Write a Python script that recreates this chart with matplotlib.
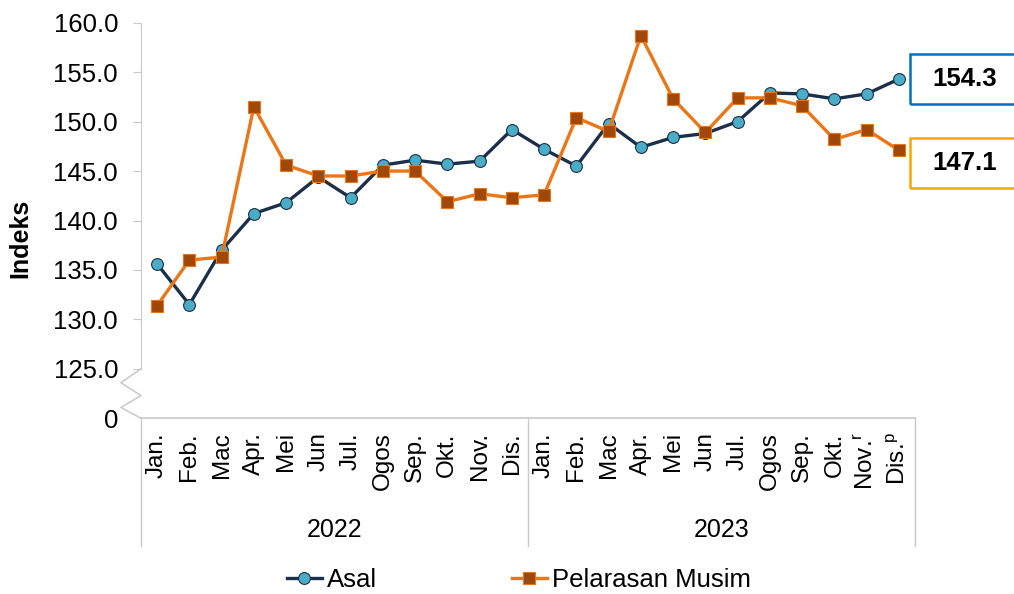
import matplotlib
matplotlib.use("Agg")
import matplotlib.pyplot as plt
import matplotlib.transforms as mtransforms
from matplotlib.patches import Rectangle
from matplotlib.lines import Line2D

plt.rcParams['font.family'] = ['Liberation Sans', 'DejaVu Sans']

months = ['Jan.', 'Feb.', 'Mac', 'Apr.', 'Mei', 'Jun', 'Jul.', 'Ogos', 'Sep.', 'Okt.', 'Nov.', 'Dis.',
          'Jan.', 'Feb.', 'Mac', 'Apr.', 'Mei', 'Jun', 'Jul.', 'Ogos', 'Sep.', 'Okt.',
          'Nov.$^{\\mathregular{r}}$', 'Dis.$^{\\mathregular{p}}$']
years = ['2022', '2023']
asal = [135.6, 131.5, 137.0, 140.7, 141.8, 144.4, 142.3, 145.6, 146.1, 145.7, 146.0, 149.2,
        147.2, 145.5, 149.8, 147.4, 148.4, 148.8, 150.0, 152.9, 152.8, 152.3, 152.8, 154.3]
pelarasan = [131.4, 136.0, 136.3, 151.5, 145.6, 144.5, 144.5, 145.0, 145.0, 141.9, 142.7, 142.3,
             142.6, 150.4, 149.0, 158.7, 152.3, 148.9, 152.4, 152.4, 151.6, 148.2, 149.2, 147.1]
ytick_vals = [120, 125, 130, 135, 140, 145, 150, 155, 160]
ytick_labels = ['0', '125.0', '130.0', '135.0', '140.0', '145.0', '150.0', '155.0', '160.0']

W, H = 1014, 594
fig = plt.figure(figsize=(W / 100, H / 100), dpi=100)
ax_left, ax_right, ax_top, ax_bot = 141, 915, 22.7, 418.3
ax = fig.add_axes([ax_left / W, 1 - ax_bot / H, (ax_right - ax_left) / W, (ax_bot - ax_top) / H])
h_px = ax_bot - ax_top
w_px = ax_right - ax_left

x = list(range(len(months)))
c_asal_line = '#1b2f4b'
c_asal_fill = '#4bacc6'
c_pm_line = '#ec7616'
c_pm_fill = '#a0470a'

ax.plot(x, asal, color=c_asal_line, lw=2.4, marker='o', ms=8.5,
        mfc=c_asal_fill, mec=c_asal_line, mew=0.8, zorder=3, label='Asal')
ax.plot(x, pelarasan, color=c_pm_line, lw=2.4, marker='s', ms=8,
        mfc=c_pm_fill, mec=c_pm_line, mew=0.8, zorder=4, label='Pelarasan Musim')

ax.set_xlim(-0.5, len(months) - 0.5)
ax.set_ylim(120, 160)
ax.set_yticks(ytick_vals)
ax.set_yticklabels(ytick_labels, fontsize=18.5)
ax.set_xticks(x)
ax.set_xticklabels(months, rotation=90, fontsize=17.5, va='top', ha='center')

gray = '#c9c9c9'
for s in ['top', 'right']:
    ax.spines[s].set_visible(False)
ax.spines['left'].set_color(gray)
ax.spines['left'].set_bounds(125, 160)
ax.spines['bottom'].set_color(gray)
ax.spines['bottom'].set_linewidth(1.2)
ax.tick_params(axis='y', length=6, color=gray, pad=10.5)
ax.tick_params(axis='x', length=0, pad=10)
ax.yaxis.get_major_ticks()[0].tick1line.set_visible(False)

# axis break zigzag
tb = mtransforms.blended_transform_factory(ax.transAxes, ax.transData)
ax.plot([0, -0.026, 0, -0.026, 0], [125, 123.6, 122.3, 121.1, 120],
        color=gray, lw=1.1, transform=tb, clip_on=False)

# year separators and labels
sep_bottom = -(546 - ax_bot) / h_px
tx = mtransforms.blended_transform_factory(ax.transData, ax.transAxes)
for xs in [-0.5, 11.5, 23.5]:
    ax.plot([xs, xs], [0, sep_bottom], color=gray, lw=1.0, transform=tx, clip_on=False)
for i, yr in enumerate(years):
    ax.text(5.5 + 12 * i, -(530 - ax_bot) / h_px, yr, transform=tx,
            ha='center', va='center', fontsize=18)

ax.set_ylabel('Indeks', fontsize=18, fontweight='bold')
ax.yaxis.set_label_coords((32 - ax_left) / w_px, (ax_bot - 238.5) / h_px)

# legend
h1 = Line2D([], [], color=c_asal_line, lw=2.4, marker='o', ms=8.5, mfc=c_asal_fill,
            mec=c_asal_line, mew=0.8)
h2 = Line2D([], [], color=c_pm_line, lw=2.4, marker='s', ms=8, mfc=c_pm_fill,
            mec=c_pm_line, mew=0.8)
fig.legend([h1, h2], ['Asal', 'Pelarasan Musim'], loc='center',
           bbox_to_anchor=(519 / W, 1 - 580 / H), ncol=2, frameon=False,
           fontsize=18.5, handlelength=1.36, handletextpad=0.2, columnspacing=5.25,
           borderpad=0, borderaxespad=0)

# value boxes
boxes = [(asal[-1], '#0070c0', 54, 104), (pelarasan[-1], '#ffa500', 138, 188)]
for val, col, ytop, ybot in boxes:
    fig.patches.append(Rectangle((910 / W, 1 - ybot / H), 0.2, (ybot - ytop) / H,
                                 transform=fig.transFigure, fill=False,
                                 edgecolor=col, lw=1.8, clip_on=False))
    fig.text(965 / W, 1 - (ytop + ybot) / 2 / H, f'{val:.1f}', ha='center', va='center',
             fontsize=18.5, fontweight='bold')

fig.savefig('out.png', dpi=100)
